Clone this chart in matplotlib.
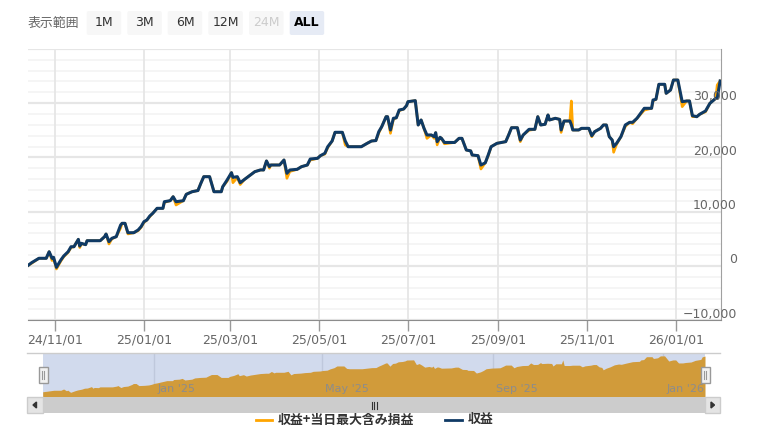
import matplotlib
matplotlib.use('Agg')
import matplotlib.pyplot as plt
import matplotlib.dates as mdates
import pandas as pd
from matplotlib.patches import FancyBboxPatch, Rectangle, Polygon
from matplotlib.lines import Line2D

plt.rcParams['font.family'] = ['DejaVu Sans', 'Noto Sans CJK JP']
JP = ['Noto Sans CJK JP', 'DejaVu Sans']

# ---------------- data ----------------
dates = [
    "2024-10-13", "2024-10-16", "2024-10-21", "2024-10-26", "2024-10-28", "2024-10-30", "2024-10-31",
    "2024-11-02", "2024-11-05", "2024-11-07", "2024-11-10", "2024-11-12", "2024-11-14", "2024-11-17",
    "2024-11-18", "2024-11-19", "2024-11-22", "2024-11-23", "2024-12-02", "2024-12-05", "2024-12-06",
    "2024-12-08", "2024-12-10", "2024-12-13", "2024-12-16", "2024-12-17", "2024-12-19", "2024-12-21",
    "2024-12-25", "2024-12-28", "2024-12-30", "2025-01-01", "2025-01-03", "2025-01-05", "2025-01-07",
    "2025-01-10", "2025-01-14", "2025-01-15", "2025-01-19", "2025-01-21", "2025-01-23", "2025-01-28",
    "2025-01-30", "2025-02-03", "2025-02-07", "2025-02-09", "2025-02-11", "2025-02-15", "2025-02-18",
    "2025-02-23", "2025-02-24", "2025-02-27", "2025-03-02", "2025-03-03", "2025-03-06", "2025-03-08",
    "2025-03-11", "2025-03-15", "2025-03-18", "2025-03-22", "2025-03-24", "2025-03-26", "2025-03-28",
    "2025-03-29", "2025-04-04", "2025-04-07", "2025-04-09", "2025-04-11", "2025-04-16", "2025-04-19",
    "2025-04-23", "2025-04-25", "2025-04-30", "2025-05-02", "2025-05-05", "2025-05-07", "2025-05-10",
    "2025-05-12", "2025-05-17", "2025-05-19", "2025-05-21", "2025-05-30", "2025-06-03", "2025-06-06",
    "2025-06-09", "2025-06-11", "2025-06-13", "2025-06-16", "2025-06-17", "2025-06-19", "2025-06-21",
    "2025-06-23", "2025-06-25", "2025-06-28", "2025-06-30", "2025-07-01", "2025-07-06", "2025-07-08",
    "2025-07-10", "2025-07-12", "2025-07-14", "2025-07-17", "2025-07-19", "2025-07-20", "2025-07-21",
    "2025-07-23", "2025-07-24", "2025-07-26", "2025-08-02", "2025-08-05", "2025-08-07", "2025-08-10",
    "2025-08-13", "2025-08-14", "2025-08-18", "2025-08-20", "2025-08-23", "2025-08-25", "2025-08-27",
    "2025-08-31", "2025-09-06", "2025-09-08", "2025-09-10", "2025-09-14", "2025-09-16", "2025-09-18",
    "2025-09-22", "2025-09-26", "2025-09-28", "2025-09-30", "2025-10-03", "2025-10-05", "2025-10-06",
    "2025-10-10", "2025-10-13", "2025-10-14", "2025-10-16", "2025-10-20", "2025-10-21", "2025-10-22",
    "2025-10-26", "2025-10-28", "2025-11-02", "2025-11-04", "2025-11-06", "2025-11-10", "2025-11-12",
    "2025-11-14", "2025-11-16", "2025-11-18", "2025-11-19", "2025-11-21", "2025-11-24", "2025-11-27",
    "2025-11-30", "2025-12-02", "2025-12-05", "2025-12-07", "2025-12-10", "2025-12-15", "2025-12-16",
    "2025-12-18", "2025-12-20", "2025-12-24", "2025-12-25", "2025-12-28", "2025-12-30", "2026-01-02",
    "2026-01-05", "2026-01-08", "2026-01-10", "2026-01-12", "2026-01-15", "2026-01-17", "2026-01-21",
    "2026-01-24", "2026-01-28", "2026-01-29", "2026-01-31",
]

# 収益 (navy)
profit = [
    0, 610, 1420, 1420, 2630, 1420, 1600,
    -250, 1100, 1840, 2630, 3550, 3550, 4900,
    3680, 4180, 3930, 4660, 4660, 5400, 5890,
    4480, 5100, 5400, 7550, 7860, 7860, 6130,
    6130, 6630, 7240, 8160, 8470, 9210, 9700,
    10620, 10620, 11840, 12030, 12760, 11840, 12030,
    13200, 13680, 13900, 15230, 16450, 16450, 13680,
    13680, 14600, 15840, 17190, 16330, 16450, 15340,
    15960, 16760, 17370, 17700, 17680, 19340, 18290,
    18600, 18600, 19520, 17070, 17680, 17800, 18290,
    18600, 19700, 19830, 20320, 20750, 21970, 23020,
    24620, 24620, 23020, 21970, 21970, 22590, 23020,
    23100, 24740, 25650, 27500, 27500, 25050, 27200,
    27300, 28730, 28900, 29530, 30260, 30450, 25970,
    26890, 25350, 24130, 24130, 23820, 24550, 22900,
    23700, 23500, 22750, 22750, 23510, 23510, 21360,
    21200, 20440, 20320, 18600, 19000, 20440, 21970,
    22590, 22900, 24130, 25470, 25470, 23200, 24130,
    25170, 25170, 27500, 25970, 26100, 27810, 26890,
    27200, 27000, 25050, 26700, 26700, 26000, 25050,
    25050, 25350, 25350, 23990, 24740, 25350, 25970,
    25970, 23820, 23200, 21970, 22590, 23820, 25970,
    26460, 26460, 27200, 27940, 29040, 29040, 30570,
    30700, 33460, 33460, 31800, 32410, 34250, 34250,
    30260, 30390, 30390, 27680, 27500, 27940, 28550,
    29960, 30880, 30880, 34070,
]

# 収益+当日最大含み損益 (orange)
profit_max = [
    0, 500, 1420, 1420, 2630, 1000, 1500,
    -550, 900, 1700, 2500, 3400, 3550, 4900,
    3400, 4100, 3930, 4660, 4660, 5400, 5890,
    4050, 5000, 5400, 7000, 7860, 7860, 5900,
    6130, 6500, 7100, 8000, 8470, 9100, 9700,
    10620, 10620, 11700, 12030, 12760, 11230, 12030,
    13200, 13680, 13900, 15230, 16450, 16450, 13680,
    13680, 14600, 15600, 17190, 15340, 16300, 15000,
    15960, 16760, 17370, 17700, 17680, 19340, 18000,
    18600, 18600, 19520, 16150, 17400, 17800, 18290,
    18600, 19500, 19830, 20320, 20600, 21800, 23020,
    24620, 24620, 22280, 21970, 21970, 22590, 23020,
    23100, 24500, 25650, 27500, 27500, 24430, 27000,
    27300, 28600, 28900, 29530, 30260, 30450, 25970,
    26890, 25350, 23500, 24130, 23500, 24550, 22300,
    23700, 23500, 22500, 22750, 23510, 23510, 21360,
    21200, 20440, 20320, 17860, 19000, 20300, 21970,
    22590, 22900, 24130, 25470, 25470, 22900, 24130,
    25000, 25170, 27500, 25970, 26100, 27810, 26890,
    27200, 27000, 24600, 26700, 26700, 30390, 25050,
    25050, 25350, 25350, 23800, 24740, 25350, 25970,
    25970, 23820, 23200, 20940, 22400, 23820, 25700,
    26460, 26200, 27200, 27800, 28700, 29040, 30400,
    30700, 33460, 33460, 31800, 32410, 34250, 34250,
    29340, 30390, 30390, 27500, 27500, 27940, 28400,
    29960, 30880, 33330, 34070,
]

x_ticks = ["2024-11-01", "2025-01-01", "2025-03-01", "2025-05-01",
           "2025-07-01", "2025-09-01", "2025-11-01", "2026-01-01"]
x_tick_labels = ["24/11/01", "25/01/01", "25/03/01", "25/05/01",
                 "25/07/01", "25/09/01", "25/11/01", "26/01/01"]
y_ticks = [-10000, 0, 10000, 20000, 30000]
y_tick_labels = ["\u221210,000", "0", "10,000", "20,000", "30,000"]

nav_ticks = ["2025-01-01", "2025-05-01", "2025-09-01", "2026-01-01"]
nav_labels = ["Jan '25", "May '25", "Sep '25", "Jan '26"]

buttons = ["1M", "3M", "6M", "12M", "24M", "ALL"]
series_names = ["収益+当日最大含み損益", "収益"]

NAVY = "#0f3a65"
ORANGE = "#ffa500"

d = pd.to_datetime(dates)
W, H = 768, 442
fig = plt.figure(figsize=(W / 100, H / 100), dpi=100)


def fr(x0, y0, x1, y1):
    return [x0 / W, 1 - y1 / H, (x1 - x0) / W, (y1 - y0) / H]


# ---------------- main chart ----------------
ax = fig.add_axes(fr(28, 48.8, 721, 320.3))
ref = pd.Timestamp("2024-11-01")
ax.set_xlim(ref - pd.Timedelta(days=18.5), ref + pd.Timedelta(days=456.6))
ax.set_ylim(-10000, 40000)

for v in range(-10000, 40001, 2000):
    major = (v % 10000 == 0)
    ax.axhline(v, color="#e6e6e6" if major else "#f2f2f2",
               lw=1.6 if major else 1.1, zorder=0)
for t in x_ticks:
    ax.axvline(pd.Timestamp(t), color="#e6e6e6", lw=1.3, zorder=0)

ax.plot(d, profit_max, color=ORANGE, lw=1.9, zorder=2, solid_joinstyle="round")
ax.plot(d, profit, color=NAVY, lw=2.2, zorder=3, solid_joinstyle="round")

ax.set_xticks(pd.to_datetime(x_ticks))
ax.set_xticklabels(x_tick_labels)
ax.tick_params(axis="x", length=8, width=1, color="#999999",
               labelcolor="#666666", labelsize=9, pad=1.5)
ax.set_yticks([])
for s in ["left", "top"]:
    ax.spines[s].set_visible(False)
ax.spines["bottom"].set_color("#8c8c8c")
ax.spines["right"].set_color("#a0a0a0")

ytr = ax.get_yaxis_transform()
for v, lab in zip(y_ticks, y_tick_labels):
    ax.text(1.023, v + 1150, lab, transform=ytr, ha="right", va="center",
            fontsize=9, color="#666666", clip_on=False, zorder=5)

# ---------------- navigator ----------------
nav = fig.add_axes(fr(42.7, 353, 705, 397))
nav.set_facecolor("#d1daed")
nav.set_xlim(d.min(), d.max())
nav.set_ylim(-5000, 37000)
for t in nav_ticks:
    nav.axvline(pd.Timestamp(t), color="#bfc8dc", lw=1, zorder=0)
nav.fill_between(d, profit_max, -5000, color="#d19b3a", lw=0, zorder=1)
ntr = nav.get_xaxis_transform()
for t, lab in zip(nav_ticks, nav_labels):
    nav.annotate(lab, (mdates.date2num(pd.Timestamp(t)), 0.18), xycoords=ntr,
                 xytext=(2.2, 0), textcoords="offset points", ha="left", va="center",
                 fontsize=8, color="#8c8c8c", zorder=3, annotation_clip=False)
nav.set_xticks([])
nav.set_yticks([])
for s in nav.spines.values():
    s.set_visible(False)

# ---------------- overlay (UI elements) ----------------
ov = fig.add_axes([0, 0, 1, 1])
ov.set_xlim(0, W)
ov.set_ylim(H, 0)
ov.axis("off")
ov.patch.set_alpha(0)

# navigator outline
ov.add_line(Line2D([27, 720], [353, 353], color="#cccccc", lw=1))
# handles
for hx in (43, 705):
    ov.add_patch(Rectangle((hx - 4.5, 367), 9, 16, facecolor="#f2f2f2",
                           edgecolor="#999999", lw=1, zorder=5))
    for dx in (-1.2, 1.2):
        ov.add_line(Line2D([hx + dx, hx + dx], [371, 379], color="#999999", lw=0.8, zorder=6))

# scrollbar
ov.add_patch(Rectangle((27, 397), 693, 16, facecolor="#cccccc", edgecolor="none"))
ov.add_patch(Rectangle((27, 397), 15.7, 16, facecolor="#e4e4e4", edgecolor="#cccccc", lw=1))
ov.add_patch(Rectangle((705, 397), 15, 16, facecolor="#e4e4e4", edgecolor="#cccccc", lw=1))
ov.add_patch(Polygon([[36.5, 402], [36.5, 408], [33, 405]], closed=True, color="#333333"))
ov.add_patch(Polygon([[711, 402], [711, 408], [714.5, 405]], closed=True, color="#333333"))
for gx in (371.5, 374, 376.5):
    ov.add_line(Line2D([gx, gx], [401.5, 408.5], color="#333333", lw=0.8))

# range selector
ov.text(28, 23, "表示範囲", fontsize=9.3, color="#666666", ha="left", va="center", family=JP)
bx = [86.7, 127.3, 167.7, 208.3, 249, 289.7]
for x0, lab in zip(bx, buttons):
    sel = lab == "ALL"
    ov.add_patch(FancyBboxPatch((x0, 11), 34.5, 24,
                                boxstyle="round,pad=0,rounding_size=2",
                                facecolor="#e6ebf5" if sel else "#f7f7f7",
                                edgecolor="none"))
    col = "#000000" if sel else ("#cccccc" if lab == "24M" else "#333333")
    ov.text(x0 + 17.25, 23, lab, fontsize=9, color=col, ha="center", va="center",
            fontweight="bold" if sel else "normal")

# legend
ov.add_line(Line2D([256, 272], [419.5, 419.5], color=ORANGE, lw=2))
ov.text(278, 419.5, series_names[0], fontsize=9.3, fontweight="bold", color="#333333",
        ha="left", va="center", family=JP)
ov.add_line(Line2D([445, 461.5], [419.5, 419.5], color=NAVY, lw=2))
ov.text(467.5, 419.5, series_names[1], fontsize=9.3, fontweight="bold", color="#333333",
        ha="left", va="center", family=JP)

fig.savefig("out.png", dpi=100)
